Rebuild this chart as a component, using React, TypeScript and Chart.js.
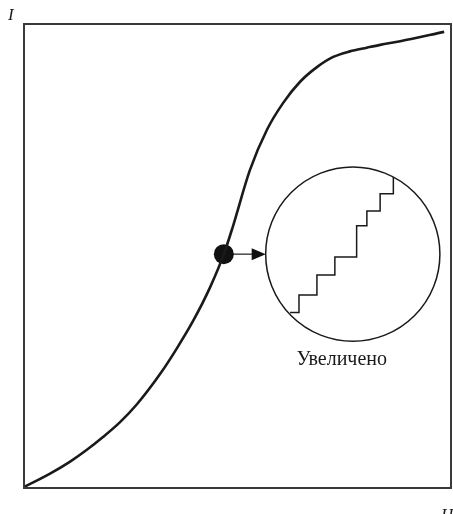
import React, { useEffect, useRef } from "react";
import { Chart, registerables } from "chart.js";

Chart.register(...registerables);

// Magnetization curve I(H) (H, I in 0..10 units)
const curveH = [0, 0.61, 1.08, 1.48, 1.85, 2.25, 2.65, 3.19, 3.58, 3.96, 4.36, 4.68, 4.89, 5.29, 5.69, 6.07, 6.46, 6.86, 7.24, 7.63, 8.03, 8.34, 8.81, 9.84];
const curveI = [0.02, 0.31, 0.57, 0.83, 1.1, 1.42, 1.81, 2.46, 3.01, 3.6, 4.33, 5.04, 5.63, 6.85, 7.72, 8.3, 8.75, 9.07, 9.29, 9.41, 9.49, 9.55, 9.63, 9.83];

// Marked point on the curve
const markH = [4.68];
const markI = [5.04];

// Magnified view (Barkhausen jumps) inside the circle
const stairH = [6.23, 6.44, 6.86, 7.28, 7.79, 8.03, 8.34, 8.65];
const stairI = [3.78, 4.16, 4.59, 4.98, 5.65, 5.97, 6.34, 6.7];

// Circle (centre in data units, radius in H units)
const zoomCircle = { h: 7.7, i: 5.04, r: 2.04 };

const axisLabels = ["I", "H"];
const zoomLabel = "Увеличено";

export default function App() {
  const ref = useRef<HTMLCanvasElement | null>(null);

  useEffect(() => {
    document.body.style.margin = "0";
    const canvas = ref.current;
    if (!canvas) return;

    const decor = {
      id: "decor",
      afterDatasetsDraw(chart: any) {
        const { ctx, chartArea: a, scales } = chart;
        const xs = scales.x;
        const ys = scales.y;
        ctx.save();
        // frame
        ctx.strokeStyle = "#3a3a3a";
        ctx.lineWidth = 2;
        ctx.strokeRect(a.left, a.top, a.right - a.left, a.bottom - a.top);

        // circle
        const cx = xs.getPixelForValue(zoomCircle.h);
        const cy = ys.getPixelForValue(zoomCircle.i);
        const r = xs.getPixelForValue(zoomCircle.h + zoomCircle.r) - cx;
        ctx.strokeStyle = "#1a1a1a";
        ctx.lineWidth = 1.5;
        ctx.beginPath();
        ctx.arc(cx, cy, r, 0, Math.PI * 2);
        ctx.stroke();

        // arrow from marked point to circle
        const px = xs.getPixelForValue(markH[0]);
        const py = ys.getPixelForValue(markI[0]);
        const tipX = cx - r;
        ctx.lineWidth = 1.2;
        ctx.beginPath();
        ctx.moveTo(px + 9, py);
        ctx.lineTo(tipX - 12, py);
        ctx.stroke();
        ctx.fillStyle = "#111";
        ctx.beginPath();
        ctx.moveTo(tipX, py);
        ctx.lineTo(tipX - 14, py - 6);
        ctx.lineTo(tipX - 14, py + 6);
        ctx.closePath();
        ctx.fill();

        // texts
        ctx.fillStyle = "#1a1a1a";
        ctx.textBaseline = "alphabetic";
        ctx.font = "20px 'Liberation Serif', 'DejaVu Serif', serif";
        ctx.textAlign = "center";
        ctx.fillText(zoomLabel, cx - 11, cy + r + 24);
        ctx.font = "italic 17px 'Liberation Serif', 'DejaVu Serif', serif";
        ctx.textAlign = "left";
        ctx.fillText(axisLabels[0], 8, 20);
        ctx.fillText(axisLabels[1], 441, 520);
        ctx.restore();
      },
    };

    const chart = new Chart(canvas, {
      type: "line",
      data: {
        datasets: [
          {
            data: curveH.map((h, k) => ({ x: h, y: curveI[k] })),
            borderColor: "#1a1a1a",
            borderWidth: 2.6,
            pointRadius: 0,
            cubicInterpolationMode: "monotone",
            fill: false,
          },
          {
            data: stairH.map((h, k) => ({ x: h, y: stairI[k] })),
            borderColor: "#1a1a1a",
            borderWidth: 1.5,
            pointRadius: 0,
            stepped: "before",
            fill: false,
          },
          {
            type: "scatter",
            data: markH.map((h, k) => ({ x: h, y: markI[k] })),
            pointRadius: 10,
            pointBackgroundColor: "#111",
            pointBorderColor: "#111",
            pointBorderWidth: 0,
          } as any,
        ],
      },
      options: {
        animation: false,
        responsive: false,
        events: [],
        layout: { autoPadding: false, padding: { left: 24, top: 24, right: 2, bottom: 26 } },
        plugins: { legend: { display: false }, tooltip: { enabled: false } },
        scales: {
          x: { type: "linear", min: 0, max: 10, display: false },
          y: { type: "linear", min: 0, max: 10, display: false },
        },
      } as any,
      plugins: [decor],
    });
    return () => chart.destroy();
  }, []);

  return (
    <div style={{ position: "fixed", left: 0, top: 0, width: 453, height: 514, background: "#fff" }}>
      <canvas ref={ref} width={453} height={514} style={{ width: 453, height: 514 }} />
    </div>
  );
}
